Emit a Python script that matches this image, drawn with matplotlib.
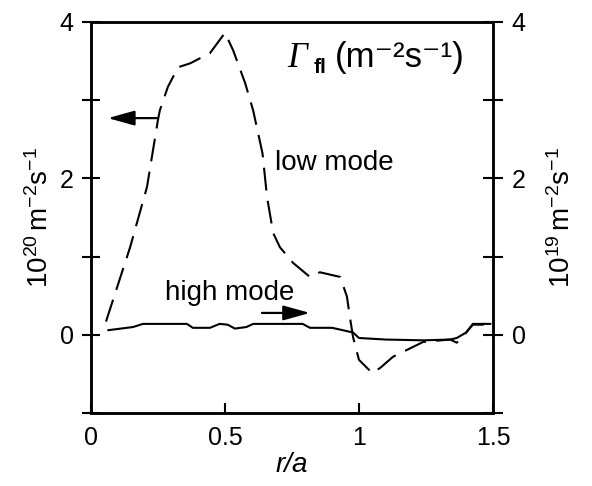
import numpy as np
import matplotlib.pyplot as plt

plt.rcParams['font.family'] = ['Liberation Sans', 'DejaVu Sans']
plt.rcParams['mathtext.fontset'] = 'custom'
plt.rcParams['mathtext.rm'] = 'Liberation Sans'
plt.rcParams['mathtext.it'] = 'Liberation Sans:italic'
plt.rcParams['mathtext.sf'] = 'Liberation Sans'

# Low mode (left axis, 1e20 m^-2 s^-1).
r_low = [0.056, 0.146, 0.209, 0.25, 0.257, 0.287, 0.325, 0.37, 0.444, 0.50,
         0.53, 0.575, 0.605, 0.64, 0.657, 0.68, 0.705, 0.754, 0.817, 0.854,
         0.93, 0.955, 0.966, 0.978, 1.0, 1.05, 1.08, 1.127, 1.24, 1.34,
         1.365, 1.40, 1.425, 1.49]
flux_low = [0.17, 1.12, 1.89, 2.75, 2.87, 3.17, 3.42, 3.47, 3.60, 3.86,
            3.64, 3.22, 2.87, 2.32, 1.76, 1.30, 1.12, 0.92, 0.74, 0.80,
            0.74, 0.49, 0.23, -0.03, -0.32, -0.49, -0.42, -0.28, -0.09, -0.06,
            -0.10, 0.03, 0.13, 0.13]

# High mode (right axis, 1e19 m^-2 s^-1).
r_high = [0.065, 0.157, 0.194, 0.358, 0.38, 0.444, 0.48, 0.51, 0.537, 0.58,
          0.605, 0.79, 0.817, 0.90, 0.978, 1.0, 1.10, 1.24, 1.34, 1.365,
          1.40, 1.425, 1.49]
flux_high = [0.06, 0.10, 0.14, 0.14, 0.09, 0.09, 0.14, 0.13, 0.08, 0.10,
             0.14, 0.14, 0.09, 0.09, 0.03, -0.04, -0.06, -0.07, -0.06, -0.04,
             0.03, 0.14, 0.14]

x_ticks = [0, 0.5, 1, 1.5]
x_ticklabels = ['0', '0.5', '1', '1.5']
y_ticks = [-1, 0, 1, 2, 3, 4]
y_ticklabels = ['', '0', '', '2', '', '4']

fig = plt.figure(figsize=(5.92, 4.86), dpi=100)
ax = fig.add_axes([0.1537, 0.150, 0.679, 0.805])
ax2 = ax.twinx()

ax.plot(r_low, flux_low, color='black', lw=1.5, dashes=(11, 5))
ax2.plot(r_high, flux_high, color='black', lw=1.5)

for a in (ax, ax2):
    a.set_xlim(0, 1.5)
    a.set_ylim(-1, 4)
    a.set_yticks(y_ticks)
    a.set_yticklabels(y_ticklabels)
    for s in a.spines.values():
        s.set_linewidth(1.8)

ax.set_xticks(x_ticks)
ax.set_xticklabels(x_ticklabels)
ax.tick_params(axis='x', direction='in', length=7, width=1.5, labelsize=18, pad=9)
ax.tick_params(axis='y', direction='inout', length=13, width=1.5, labelsize=18, pad=6)
ax2.tick_params(axis='y', direction='inout', length=15, width=1.5, labelsize=18, pad=6)

ax.set_xlabel('r/a', fontsize=20, style='italic', labelpad=2)
ax.set_ylabel(r'$\mathrm{10^{20}\,m^{-2}s^{-1}}$', fontsize=20, labelpad=4)
ax2.set_ylabel(r'$\mathrm{10^{19}\,m^{-2}s^{-1}}$', fontsize=20, labelpad=16)

# Panel label: Gamma_fl (m-2 s-1)
ax.text(0.731, 3.42, 'Γ', fontsize=25, family='Liberation Serif', style='italic',
        va='baseline', ha='left')
ax.text(0.83, 3.35, 'fl', fontsize=15, weight='bold', va='baseline', ha='left')
ax.text(0.91, 3.42, '(m⁻²s⁻¹)', fontsize=25, va='baseline', ha='left')

ax.text(0.687, 2.2, 'low mode', fontsize=20, va='center', ha='left')
ax.text(0.276, 0.54, 'high mode', fontsize=20, va='center', ha='left')

ax.annotate('', xy=(0.063, 2.77), xytext=(0.246, 2.77),
            arrowprops=dict(arrowstyle='-|>,head_length=0.9,head_width=0.25',
                            color='black', lw=1.6,
                            mutation_scale=18, shrinkA=0, shrinkB=0))
ax.annotate('', xy=(0.817, 0.28), xytext=(0.638, 0.28),
            arrowprops=dict(arrowstyle='-|>,head_length=0.9,head_width=0.25',
                            color='black', lw=1.6,
                            mutation_scale=18, shrinkA=0, shrinkB=0))

fig.savefig('out.png', dpi=100)
